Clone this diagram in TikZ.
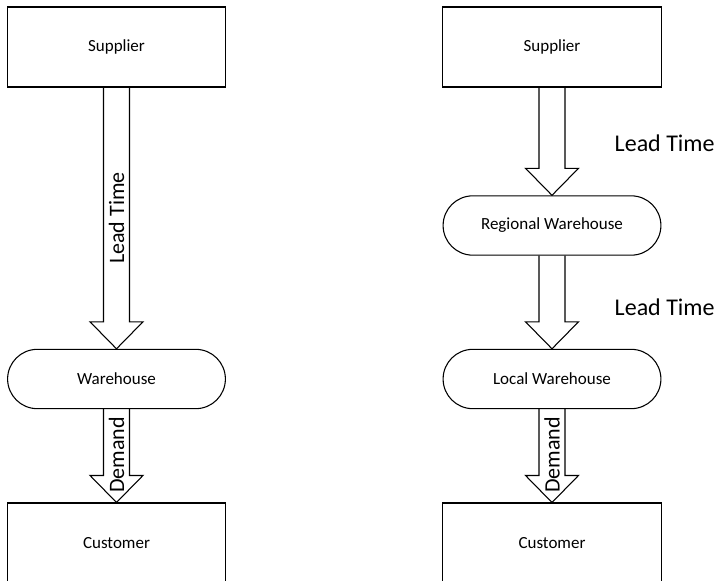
\documentclass[tikz,border=0pt]{standalone}
\usepackage{fontspec}
\setmainfont{Carlito}
\usetikzlibrary{calc}
\usetikzlibrary{positioning}
\usetikzlibrary{shapes.misc}

\tikzset{
	box/.style={draw, line width=0.8pt, minimum width=164pt, minimum height=60pt, font=\fontsize{12.75}{15}\selectfont},
	stadium/.style={draw, line width=0.8pt, rounded rectangle, minimum width=170pt, minimum height=44.5pt, font=\fontsize{12.75}{15}\selectfont},
	fat/.style={line width=0.8pt, line join=miter},
	inlabel/.style={rotate=90, font=\fontsize{16.5}{20}\selectfont},
	sidelabel/.style={anchor=west, font=\fontsize{18}{22}\selectfont}
}

% hollow block arrow from the bottom of #1 to the top of #2
\newcommand{\fatarrow}[2]{%
	\draw[fat] ($(#1.south)+(-13,0)$) -- ($(#2.north)+(-13,-27)$) -- ($(#2.north)+(-26.5,-27)$) -- (#2.north)
		-- ($(#2.north)+(26.5,-27)$) -- ($(#2.north)+(13,-27)$) -- ($(#1.south)+(13,0)$);}

\begin{document}
\begin{tikzpicture}[x=0.75pt, y=-0.75pt]
	\useasboundingbox (0,0) rectangle (724,581);

	% one warehouse
	\node[box] (sup1) at (116.5,47) {Supplier};
	\node[stadium] (wh1) at (116.5,379) {Warehouse};
	\node[box] (cus1) at (116.5,543) {Customer};

	\fatarrow{sup1}{wh1}
	\fatarrow{wh1}{cus1}
	\node[inlabel] (lt1) at ($(sup1.south)!0.5!(wh1.north)$) {Lead Time};
	\node[inlabel] (dm1) at ($(wh1.south)!0.49!(cus1.north)$) {Demand};

	% two warehouses
	\node[box] (sup2) at (552,47) {Supplier};
	\node[stadium] (reg) at (552,225.5) {Regional Warehouse};
	\node[stadium] (loc) at (552,379) {Local Warehouse};
	\node[box] (cus2) at (552,543) {Customer};

	\fatarrow{sup2}{reg}
	\fatarrow{reg}{loc}
	\fatarrow{loc}{cus2}
	\node[sidelabel] (lt2) at ($(sup2.south)!0.52!(reg.north)+(58,0)$) {Lead Time};
	\node[sidelabel] (lt3) at ($(reg.south)!0.55!(loc.north)+(58,0)$) {Lead Time};
	\node[inlabel] (dm2) at ($(loc.south)!0.49!(cus2.north)$) {Demand};
\end{tikzpicture}
\end{document}
